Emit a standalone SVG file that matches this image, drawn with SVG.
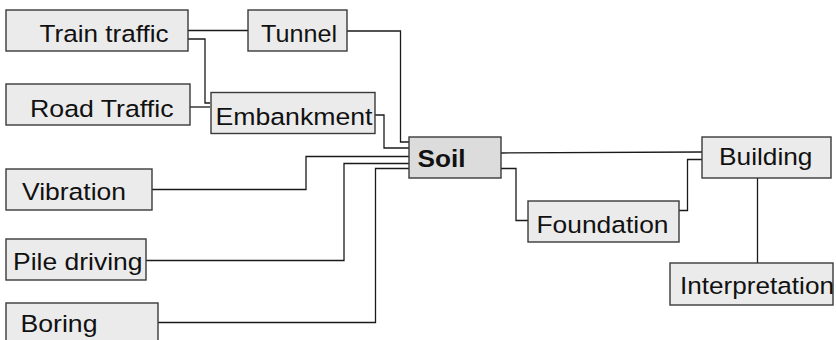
<svg xmlns="http://www.w3.org/2000/svg" width="836" height="340" viewBox="0 0 836 340">
<style>
.box{fill:#ebebeb;stroke:#3a3a3a;stroke-width:1.4}
.soil{fill:#dcdcdc;stroke:#3a3a3a;stroke-width:1.4}
.t{font-family:"Liberation Sans",Arial,sans-serif;font-size:24.5px;fill:#111}
.b{font-weight:bold}
.c{fill:none;stroke:#1a1a1a;stroke-width:1.3}
</style>
<rect width="836" height="340" fill="#ffffff"/>
<g id="connectors">
<path class="c" d="M188,30.5H248"/>
<path class="c" d="M188,39H205V103H210"/>
<path class="c" d="M190,107H210"/>
<path class="c" d="M347,31H400.5V142H409"/>
<path class="c" d="M375,115H384V148H409"/>
<path class="c" d="M152,189.5H306V156.5H409"/>
<path class="c" d="M146,260.5H344V163.5H409"/>
<path class="c" d="M158,322.5H375.5V168.5H409"/>
<path class="c" d="M501,153L702,152"/>
<path class="c" d="M501,168.5H516V220.5H528"/>
<path class="c" d="M679,210.5H687.5V159.5H702"/>
<path class="c" d="M757.5,178V263"/>
</g>
<g id="train"><rect class="box" x="6" y="10" width="182" height="41"/><text class="t" x="39.5" y="41.5" textLength="129" lengthAdjust="spacingAndGlyphs">Train traffic</text></g>
<g id="tunnel"><rect class="box" x="248" y="10" width="99" height="41"/><text class="t" x="261" y="41.5" textLength="76" lengthAdjust="spacingAndGlyphs">Tunnel</text></g>
<g id="road"><rect class="box" x="6" y="84" width="184" height="41"/><text class="t" x="30" y="117" textLength="143.5" lengthAdjust="spacingAndGlyphs">Road Traffic</text></g>
<g id="embankment"><rect class="box" x="211" y="92.5" width="164" height="41"/><text class="t" x="215.5" y="124.5" textLength="157" lengthAdjust="spacingAndGlyphs">Embankment</text></g>
<g id="soil"><rect class="soil" x="409" y="137" width="92" height="41"/><text class="t b" x="417.5" y="166.5" textLength="48" lengthAdjust="spacingAndGlyphs">Soil</text></g>
<g id="vibration"><rect class="box" x="6" y="169" width="146" height="41"/><text class="t" x="22" y="200" textLength="104" lengthAdjust="spacingAndGlyphs">Vibration</text></g>
<g id="pile"><rect class="box" x="6" y="239" width="140" height="41"/><text class="t" x="13" y="270" textLength="129.5" lengthAdjust="spacingAndGlyphs">Pile driving</text></g>
<g id="boring"><rect class="box" x="6" y="303" width="152" height="41"/><text class="t" x="20.5" y="331.5" textLength="77" lengthAdjust="spacingAndGlyphs">Boring</text></g>
<g id="building"><rect class="box" x="702" y="137" width="129" height="41"/><text class="t" x="719" y="165" textLength="93.5" lengthAdjust="spacingAndGlyphs">Building</text></g>
<g id="foundation"><rect class="box" x="528" y="201" width="151" height="41"/><text class="t" x="536.5" y="232.5" textLength="132" lengthAdjust="spacingAndGlyphs">Foundation</text></g>
<g id="interpretation"><rect class="box" x="670" y="263" width="163" height="42"/><text class="t" x="680" y="294" textLength="154" lengthAdjust="spacingAndGlyphs">Interpretation</text></g>
</svg>
